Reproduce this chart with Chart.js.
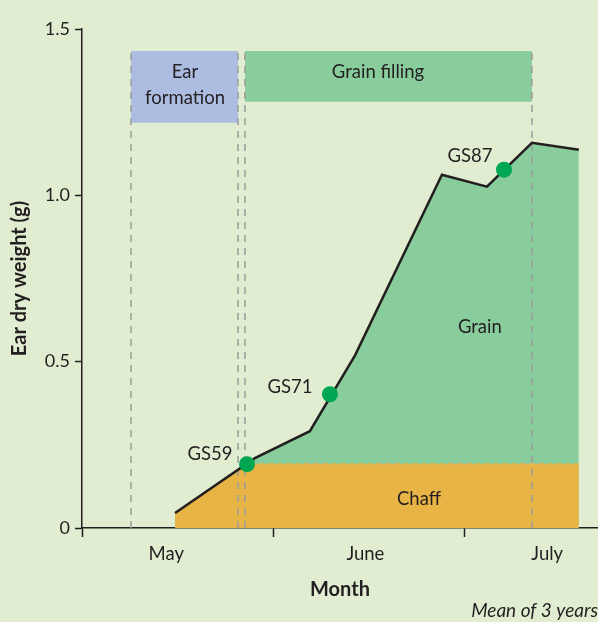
<!DOCTYPE html>
<html>
<head>
<meta charset="utf-8">
<script src="https://cdn.jsdelivr.net/npm/chart.js@4"></script>
<style>
  html, body { margin: 0; padding: 0; background: #e0edd1; }
  #wrap { width: 598px; height: 622px; }
</style>
</head>
<body>
<div id="wrap"><canvas id="earChart" width="598" height="622"></canvas></div>
<script>
// x is in months from the start of May (0 = 1 May, 1 = 1 June, 2 = 1 July)
const monthLabels = ['May', 'June', 'July'];
const monthLabelAt = [0.44, 1.48, 2.43];
const monthStarts = [0, 1, 2];
const xMax = 2.695;

// total ear dry weight (g)
const earX = [0.486, 0.903, 1.19, 1.426, 1.88, 2.115, 2.35, 2.595];
const earY = [0.045, 0.21, 0.291, 0.519, 1.062, 1.026, 1.158, 1.137];

// chaff part
const chaffX = [0.486, 0.862, 2.595];
const chaffY = [0.045, 0.192, 0.192];

// growth stages
const stageNames = ['GS59', 'GS71', 'GS87'];
const stageX = [0.862, 1.295, 2.204];
const stageY = [0.192, 0.402, 1.077];

// phases: start, end (months)
const earFormation = [0.256, 0.815];
const grainFilling = [0.851, 2.35];

const yTicks = [0, 0.5, 1.0, 1.5];

const ink = '#231f20';
const font = 'Lato, "Noto Sans", sans-serif';

function pts(xs, ys) {
  return xs.map((x, i) => ({ x: x, y: ys[i] }));
}

function dashLine(x) {
  return {
    data: [{ x: x, y: 0 }, { x: x, y: 1.434 }],
    borderColor: '#9b9d9b',
    borderWidth: 1.5,
    borderDash: [7, 6],
    pointRadius: 0,
    fill: false,
    order: 3
  };
}

// texts placed in data coordinates
const notes = [
  { text: 'Ear', x: 0.538, y: 1.371 },
  { text: 'formation', x: 0.538, y: 1.293 },
  { text: 'Grain filling', x: 1.546, y: 1.371 },
  { text: 'Grain', x: 2.078, y: 0.603 },
  { text: 'Chaff', x: 1.76, y: 0.087 },
  { text: stageNames[0], x: 0.668, y: 0.222 },
  { text: stageNames[1], x: 1.086, y: 0.423 },
  { text: stageNames[2], x: 2.026, y: 1.119 }
];

const notesPlugin = {
  id: 'notes',
  afterDatasetsDraw(chart) {
    const c = chart.ctx;
    const xs = chart.scales.x, ys = chart.scales.y;
    c.save();
    c.fillStyle = ink;
    c.font = '18.5px ' + font;
    c.textAlign = 'center';
    c.textBaseline = 'middle';
    notes.forEach(n => {
      c.fillText(n.text, xs.getPixelForValue(n.x), ys.getPixelForValue(n.y));
    });
    c.restore();
  }
};

const xTickVals = [];
const xTickText = [];
monthStarts.forEach((m, i) => {
  xTickVals.push(m, monthLabelAt[i]);
  xTickText.push('', monthLabels[i]);
});

new Chart(document.getElementById('earChart'), {
  type: 'line',
  data: {
    datasets: [
      {
        data: pts(stageX, stageY),
        showLine: false,
        pointRadius: 8,
        pointBackgroundColor: '#00a651',
        pointBorderWidth: 0,
        order: 1
      },
      {
        data: pts(earX, earY),
        borderColor: ink,
        borderWidth: 2.5,
        pointRadius: 0,
        fill: false,
        order: 2
      },
      dashLine(earFormation[0]),
      dashLine(earFormation[1]),
      dashLine(grainFilling[0]),
      dashLine(grainFilling[1]),
      {
        data: pts(chaffX, chaffY),
        borderColor: '#eab853',
        borderWidth: 2,
        borderDash: [6, 3],
        backgroundColor: '#e9b446',
        pointRadius: 0,
        fill: 'origin',
        order: 8
      },
      {
        data: pts(earX, earY),
        borderWidth: 0,
        backgroundColor: '#8acd9c',
        pointRadius: 0,
        fill: 'origin',
        order: 9
      },
      {
        data: [{ x: earFormation[0], y: 1.434 }, { x: earFormation[1], y: 1.434 }],
        borderWidth: 0,
        backgroundColor: '#adbde2',
        pointRadius: 0,
        fill: { value: 1.218 },
        order: 10
      },
      {
        data: [{ x: grainFilling[0], y: 1.434 }, { x: grainFilling[1], y: 1.434 }],
        borderWidth: 0,
        backgroundColor: '#8acd9c',
        pointRadius: 0,
        fill: { value: 1.281 },
        order: 10
      }
    ]
  },
  options: {
    responsive: false,
    animation: false,
    events: [],
    layout: { autoPadding: false, padding: { top: 29, right: 0, left: 0, bottom: 0 } },
    plugins: {
      legend: { display: false },
      tooltip: { enabled: false },
      subtitle: {
        display: true,
        text: 'Mean of 3 years',
        position: 'bottom',
        align: 'end',
        color: ink,
        font: { family: font, size: 19, style: 'italic' },
        padding: { top: 0, bottom: 0 }
      }
    },
    scales: {
      x: {
        type: 'linear',
        min: 0,
        max: xMax,
        afterBuildTicks: s => { s.ticks = xTickVals.map(v => ({ value: v })); },
        afterFit: s => { s.height = 71.2; s.paddingLeft = 0; s.paddingRight = 0; },
        ticks: {
          autoSkip: false,
          maxRotation: 0,
          padding: 6,
          color: ink,
          font: { family: font, size: 18.5 },
          callback: (v, i) => xTickText[i]
        },
        grid: {
          display: true,
          drawOnChartArea: false,
          drawTicks: true,
          tickLength: 9,
          tickWidth: 1.5,
          tickColor: ctx => Number.isInteger(ctx.tick.value) ? ink : 'rgba(0,0,0,0)'
        },
        border: { display: true, color: ink, width: 1.5 },
        title: {
          display: true,
          text: 'Month',
          color: ink,
          font: { family: font, size: 20, weight: 'bold', lineHeight: 1 },
          padding: { top: 0, bottom: 0 }
        }
      },
      y: {
        min: 0,
        max: 1.5,
        afterBuildTicks: s => { s.ticks = yTicks.map(v => ({ value: v })); },
        afterFit: s => { s.width = 82; },
        ticks: {
          padding: 5,
          color: ink,
          font: { family: font, size: 18 },
          callback: v => v === 0 ? '0' : v.toFixed(1)
        },
        grid: {
          display: true,
          drawOnChartArea: false,
          drawTicks: true,
          tickLength: 7,
          tickWidth: 1.5,
          tickColor: ink
        },
        border: { display: true, color: ink, width: 1.5 },
        title: {
          display: true,
          text: 'Ear dry weight (g)',
          color: ink,
          font: { family: font, size: 20, weight: 'bold' },
          padding: { top: 8, bottom: 0 }
        }
      }
    }
  },
  plugins: [notesPlugin]
});
</script>
</body>
</html>
